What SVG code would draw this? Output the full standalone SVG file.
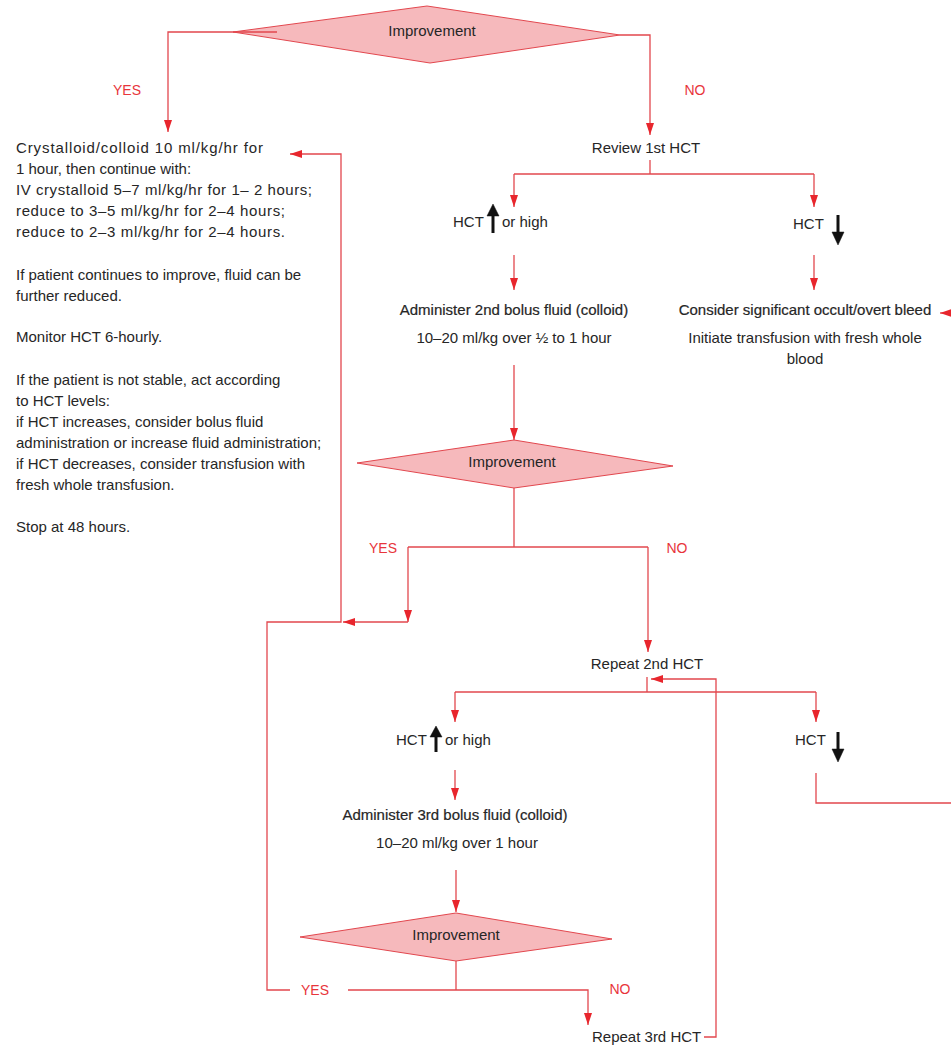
<svg xmlns="http://www.w3.org/2000/svg" width="951" height="1047" viewBox="0 0 951 1047">
<style>
text{font-family:"Liberation Sans",Arial,sans-serif;fill:#262626;font-size:15px}
.c{text-anchor:middle}
.med{stroke:#262626;stroke-width:0.2}
.lab{fill:#e8353b;font-size:14px;text-anchor:middle}
.dia{fill:#f6b9bc;stroke:#e2474e;stroke-width:1}
.ln{fill:none;stroke:#e2474e;stroke-width:1.3}
.blk{fill:#111;stroke:#111}
</style>
<defs>
<marker id="ah" viewBox="0 0 12 8" refX="12" refY="4" markerWidth="12" markerHeight="8" markerUnits="userSpaceOnUse" orient="auto">
<path d="M0,0 L12,4 L0,8 z" fill="#e8262d"/>
</marker>
</defs>
<rect width="951" height="1047" fill="#fff"/>

<g id="d1"><polygon class="dia" points="233,32 427,6 620,35 430,63"/><text class="c" x="432" y="36">Improvement</text></g>
<g id="lblYes1"><text class="lab" x="127" y="95">YES</text></g>
<g id="lblNo1"><text class="lab" x="695" y="95">NO</text></g>

<g id="careText">
<text x="16" y="153" textLength="247">Crystalloid/colloid 10 ml/kg/hr for</text>
<text x="16" y="174">1 hour, then continue with:</text>
<text x="16" y="195" textLength="296">IV crystalloid 5–7 ml/kg/hr for 1– 2 hours;</text>
<text x="16" y="216" textLength="269">reduce to 3–5 ml/kg/hr for 2–4 hours;</text>
<text x="16" y="237" textLength="269">reduce to 2–3 ml/kg/hr for 2–4 hours.</text>
<text x="16" y="280">If patient continues to improve, fluid can be</text>
<text x="16" y="301">further reduced.</text>
<text x="16" y="342">Monitor HCT 6-hourly.</text>
<text x="16" y="385">If the patient is not stable, act according</text>
<text x="16" y="406">to HCT levels:</text>
<text x="16" y="427">if HCT increases, consider bolus fluid</text>
<text x="16" y="448">administration or increase fluid administration;</text>
<text x="16" y="469">if HCT decreases, consider transfusion with</text>
<text x="16" y="490">fresh whole transfusion.</text>
<text x="16" y="532">Stop at 48 hours.</text>
</g>

<g id="review1"><text class="c" x="646" y="153">Review 1st HCT</text></g>

<g id="hctUp1"><text x="453" y="227">HCT</text><text x="502" y="227">or high</text>
<path class="blk" d="M493,233 V214" stroke-width="3"/><polygon class="blk" points="487,216 493,204 499,216" stroke-width="0.5"/></g>
<g id="hctDown1"><text x="793" y="229">HCT</text>
<path class="blk" d="M838,215 V234" stroke-width="3"/><polygon class="blk" points="832,232 838,245 844,232" stroke-width="0.5"/></g>

<g id="admin2"><text class="c med" x="514" y="315">Administer 2nd bolus fluid (colloid)</text><text class="c" x="514" y="343">10–20 ml/kg over ½ to 1 hour</text></g>
<g id="bleed"><text class="c med" x="805" y="315">Consider significant occult/overt bleed</text><text class="c" x="805" y="343">Initiate transfusion with fresh whole</text><text class="c" x="805" y="364">blood</text></g>

<g id="d2"><polygon class="dia" points="357,463 514,440 673,466 514,488"/><text class="c" x="512" y="467">Improvement</text></g>
<g id="lblYes2"><text class="lab" x="383" y="553">YES</text></g>
<g id="lblNo2"><text class="lab" x="677" y="553">NO</text></g>

<g id="repeat2"><text class="c" x="647" y="669">Repeat 2nd HCT</text></g>

<g id="hctUp2"><text x="396" y="745">HCT</text><text x="445" y="745">or high</text>
<path class="blk" d="M436,752 V735" stroke-width="3"/><polygon class="blk" points="430,737 436,726 442,737" stroke-width="0.5"/></g>
<g id="hctDown2"><text x="795" y="745">HCT</text>
<path class="blk" d="M838,732 V751" stroke-width="3"/><polygon class="blk" points="832,749 838,762 844,749" stroke-width="0.5"/></g>

<g id="admin3"><text class="c med" x="455" y="820">Administer 3rd bolus fluid (colloid)</text><text class="c" x="457" y="848">10–20 ml/kg over 1 hour</text></g>

<g id="d3"><polygon class="dia" points="300,937 456,913 612,939 456,961"/><text class="c" x="456" y="940">Improvement</text></g>
<g id="lblYes3"><text class="lab" x="315" y="995">YES</text></g>
<g id="lblNo3"><text class="lab" x="620" y="994">NO</text></g>

<g id="repeat3"><text x="592" y="1042">Repeat 3rd HCT</text></g>

<g id="connectors">
<path class="ln" d="M277,32 H168 V132" marker-end="url(#ah)"/>
<path class="ln" d="M620,35 H650 V135" marker-end="url(#ah)"/>
<path class="ln" d="M650,160 V174"/>
<path class="ln" d="M514,174 H814"/>
<path class="ln" d="M514,174 V207" marker-end="url(#ah)"/>
<path class="ln" d="M814,174 V207" marker-end="url(#ah)"/>
<path class="ln" d="M514,255 V290" marker-end="url(#ah)"/>
<path class="ln" d="M814,255 V290" marker-end="url(#ah)"/>
<path class="ln" d="M951,313 H940" marker-end="url(#ah)"/>
<path class="ln" d="M514,365 V440" marker-end="url(#ah)"/>
<path class="ln" d="M514,488 V547"/>
<path class="ln" d="M408,547 H648"/>
<path class="ln" d="M408,547 V622" marker-end="url(#ah)"/>
<path class="ln" d="M648,547 V652" marker-end="url(#ah)"/>
<path class="ln" d="M408,622 H343" marker-end="url(#ah)"/>
<path class="ln" d="M290,990 H267 V622 H341 V154 H290" marker-end="url(#ah)"/>
<path class="ln" d="M647,677 V692"/>
<path class="ln" d="M455,692 H816"/>
<path class="ln" d="M455,692 V722" marker-end="url(#ah)"/>
<path class="ln" d="M816,692 V722" marker-end="url(#ah)"/>
<path class="ln" d="M704,1037 H716 V679 H651" marker-end="url(#ah)"/>
<path class="ln" d="M455,770 V800" marker-end="url(#ah)"/>
<path class="ln" d="M456,870 V912" marker-end="url(#ah)"/>
<path class="ln" d="M816,773 V803 H951"/>
<path class="ln" d="M456,961 V990"/>
<path class="ln" d="M348,990 H588 V1025" marker-end="url(#ah)"/>
</g>
</svg>
